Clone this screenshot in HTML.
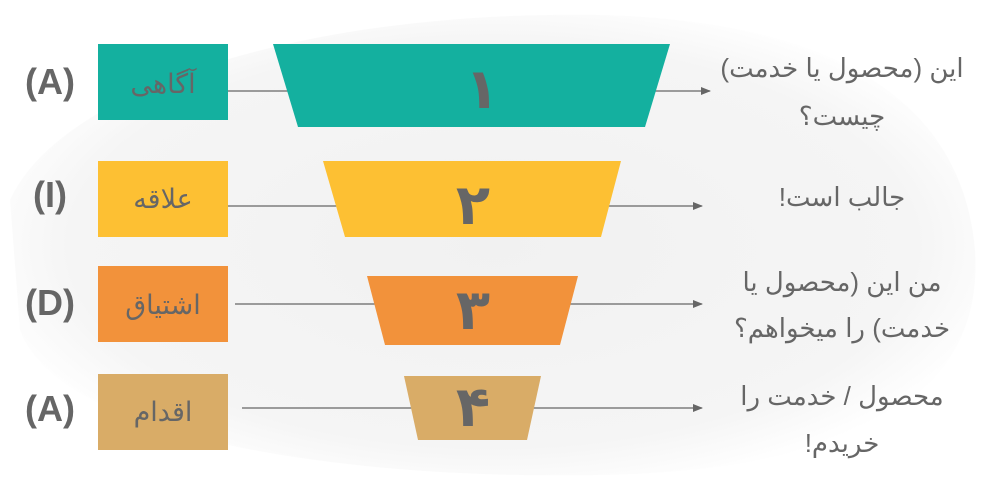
<!DOCTYPE html>
<html><head><meta charset="utf-8"><style>
html,body{margin:0;padding:0;background:#fff}
svg{display:block}
text{font-family:"Liberation Sans","DejaVu Sans","Noto Sans CJK SC",sans-serif;fill:#666}
</style></head><body>
<svg width="1000" height="494" viewBox="0 0 1000 494" xmlns="http://www.w3.org/2000/svg">
<defs>
<radialGradient id="bg" cx="0.5" cy="0.5" r="0.55">
<stop offset="0" stop-color="#f1f1f1"/><stop offset="0.8" stop-color="#f5f5f5"/><stop offset="1" stop-color="#fff"/>
</radialGradient>
<marker id="ar" markerWidth="10" markerHeight="10" refX="9" refY="5" orient="auto" markerUnits="userSpaceOnUse">
<path d="M0,1 L10,5 L0,9 Z" fill="#666"/></marker>
</defs>
<rect width="1000" height="494" fill="#fff"/>
<path d="M10,200 C60,90 300,10 600,15 C800,20 960,80 975,250 C985,400 850,470 600,475 C350,480 60,440 20,330 Z" fill="url(#bg)"/>
<g stroke="#666" stroke-width="1.3">
<line x1="228" y1="91" x2="710" y2="91" marker-end="url(#ar)"/>
<line x1="228" y1="206" x2="702" y2="206" marker-end="url(#ar)"/>
<line x1="235" y1="304" x2="702" y2="304" marker-end="url(#ar)"/>
<line x1="242" y1="408" x2="702" y2="408" marker-end="url(#ar)"/>
</g>
<rect x="98" y="44" width="130" height="76" fill="#14B09F"/>
<rect x="98" y="161" width="130" height="76" fill="#FDC033"/>
<rect x="98" y="266" width="130" height="76" fill="#F2923B"/>
<rect x="98" y="374" width="130" height="76" fill="#D9AC67"/>
<polygon points="273,44 670,44 645,127 298,127" fill="#14B09F"/>
<polygon points="323,161 621,161 601,237 345,237" fill="#FDC033"/>
<polygon points="367,276 578,276 560,345 385,345" fill="#F2923B"/>
<polygon points="404,376 541,376 527,440 418,440" fill="#D9AC67"/>
<g font-size="36" font-weight="bold" text-anchor="middle">
<text x="50" y="94">(A)</text>
<text x="50" y="207">(I)</text>
<text x="50" y="315">(D)</text>
<text x="50" y="421">(A)</text>
</g>
<g font-size="27" text-anchor="middle" direction="rtl">
<text x="163" y="93">آگاهی</text>
<text x="163" y="208">علاقه</text>
<text x="163" y="314">اشتیاق</text>
<text x="163" y="421">اقدام</text>
</g>
<g font-size="56" font-weight="bold" text-anchor="middle">
<text x="482" y="108">۱</text>
<text x="473" y="224">۲</text>
<text x="473" y="329">۳</text>
<text x="473" y="426">۴</text>
</g>
<g font-size="26" text-anchor="middle" direction="rtl">
<text x="842" y="77">این (محصول یا خدمت)</text>
<text x="842" y="125">چیست؟</text>
<text x="842" y="206">جالب است!</text>
<text x="842" y="291">من این (محصول یا</text>
<text x="842" y="337">خدمت) را میخواهم؟</text>
<text x="842" y="405">محصول / خدمت را</text>
<text x="842" y="452">خریدم!</text>
</g>
</svg>
</body></html>
